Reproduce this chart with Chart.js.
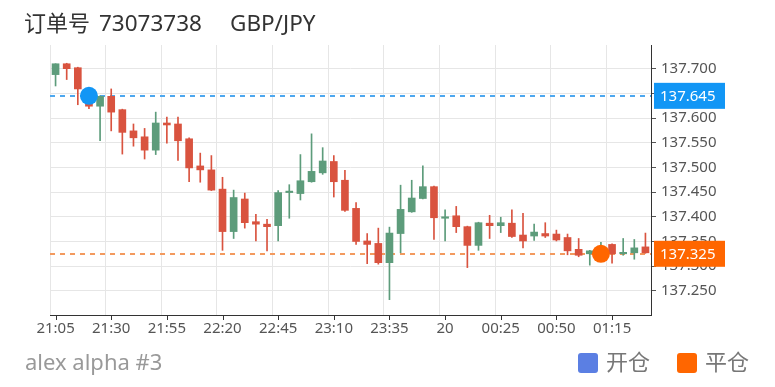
<!DOCTYPE html>
<html>
<head>
<meta charset="utf-8">
<script src="https://cdn.jsdelivr.net/npm/chart.js@4/dist/chart.umd.min.js"></script>
<style>
  html, body { margin: 0; padding: 0; background: #fff; }
  #wrap { width: 775px; height: 387px; }
</style>
</head>
<body>
<div id="wrap"><canvas id="kline" width="775" height="387"></canvas></div>
<script>
const FONT = "'Noto Sans', 'Noto Sans CJK SC', sans-serif";

const times = [
  '21:05', '21:10', '21:15', '21:20', '21:25', '21:30', '21:35', '21:40', '21:45', '21:50',
  '21:55', '22:00', '22:05', '22:10', '22:15', '22:20', '22:25', '22:30', '22:35', '22:40',
  '22:45', '22:50', '22:55', '23:00', '23:05', '23:10', '23:15', '23:20', '23:25', '23:30',
  '23:35', '23:40', '23:45', '23:50', '23:55', '20', '00:05', '00:10', '00:15', '00:20',
  '00:25', '00:30', '00:35', '00:40', '00:45', '00:50', '00:55', '01:00', '01:05', '01:10',
  '01:15', '01:20', '01:25', '01:30'
];

const opens = [
  137.688, 137.710, 137.702, 137.659, 137.624, 137.644, 137.617, 137.574, 137.562, 137.535,
  137.590, 137.588, 137.558, 137.503, 137.495, 137.456, 137.370, 137.436, 137.390, 137.385,
  137.382, 137.449, 137.447, 137.471, 137.489, 137.512, 137.474, 137.417, 137.351, 137.346,
  137.307, 137.366, 137.410, 137.437, 137.461, 137.397, 137.402, 137.380, 137.342, 137.387,
  137.382, 137.387, 137.363, 137.361, 137.366, 137.365, 137.358, 137.334, 137.325, 137.328,
  137.344, 137.325, 137.327, 137.339
];
const highs = [
  137.710, 137.711, 137.703, 137.662, 137.645, 137.659, 137.618, 137.588, 137.579, 137.612,
  137.602, 137.602, 137.560, 137.529, 137.524, 137.480, 137.454, 137.448, 137.405, 137.395,
  137.453, 137.465, 137.526, 137.568, 137.540, 137.524, 137.494, 137.429, 137.366, 137.377,
  137.379, 137.464, 137.474, 137.503, 137.462, 137.414, 137.421, 137.381, 137.389, 137.403,
  137.399, 137.414, 137.407, 137.385, 137.388, 137.373, 137.365, 137.356, 137.332, 137.348,
  137.345, 137.356, 137.354, 137.367
];
const lows = [
  137.665, 137.678, 137.627, 137.619, 137.554, 137.574, 137.527, 137.543, 137.517, 137.526,
  137.549, 137.514, 137.471, 137.470, 137.453, 137.332, 137.356, 137.377, 137.351, 137.331,
  137.351, 137.397, 137.434, 137.470, 137.486, 137.440, 137.411, 137.344, 137.305, 137.304,
  137.232, 137.327, 137.409, 137.436, 137.354, 137.351, 137.368, 137.297, 137.332, 137.356,
  137.368, 137.358, 137.337, 137.352, 137.358, 137.351, 137.323, 137.319, 137.302, 137.320,
  137.306, 137.322, 137.314, 137.326
];
const closes = [
  137.710, 137.700, 137.659, 137.624, 137.644, 137.612, 137.571, 137.560, 137.535, 137.590,
  137.586, 137.554, 137.499, 137.495, 137.454, 137.370, 137.439, 137.388, 137.385, 137.380,
  137.449, 137.452, 137.473, 137.492, 137.513, 137.471, 137.413, 137.350, 137.344, 137.307,
  137.367, 137.415, 137.438, 137.461, 137.398, 137.400, 137.380, 137.342, 137.388, 137.382,
  137.388, 137.360, 137.351, 137.369, 137.361, 137.353, 137.331, 137.322, 137.331, 137.334,
  137.325, 137.328, 137.337, 137.327
];

const OPEN_INDEX = 3;
const OPEN_PRICE = 137.645;
const CLOSE_INDEX = 49;
const CLOSE_PRICE = 137.325;

const UP = '#5d9c7b';
const DOWN = '#d9533f';
const OPEN_COLOR = '#1296f5';
const CLOSE_COLOR = '#ff6600';

const candleColors = opens.map((o, i) => closes[i] >= o ? UP : DOWN);
const bodies = opens.map((o, i) => [o, closes[i]]);
const wicks = lows.map((l, i) => [l, highs[i]]);
const openMarks = times.map((t, i) => i === OPEN_INDEX ? OPEN_PRICE : null);
const closeMarks = times.map((t, i) => i === CLOSE_INDEX ? CLOSE_PRICE : null);

/**
 * Price lines, price tags, title, footer, legend
 */
const decor = {
  id: 'decor',
  beforeDatasetsDraw(chart) {
    const { ctx, chartArea: a, scales } = chart;
    const lines = [[OPEN_PRICE, '#4ea8ef'], [CLOSE_PRICE, '#f39a5f']];
    ctx.save();
    ctx.lineWidth = 2;
    ctx.setLineDash([5, 5]);
    lines.forEach(([v, c]) => {
      const y = Math.round(scales.y.getPixelForValue(v));
      ctx.strokeStyle = c;
      ctx.beginPath();
      ctx.moveTo(a.left, y);
      ctx.lineTo(a.right, y);
      ctx.stroke();
    });
    ctx.restore();
  },
  afterDraw(chart) {
    const { ctx, chartArea: a, scales } = chart;
    ctx.save();

    // x tick marks sit on the candle centres
    ctx.strokeStyle = '#333';
    ctx.lineWidth = 1;
    times.forEach((t, i) => {
      if (i % 5 !== 0) return;
      const x = Math.round(scales.x.getPixelForTick(i)) + 0.5;
      ctx.beginPath();
      ctx.moveTo(x, a.bottom);
      ctx.lineTo(x, a.bottom + 5);
      ctx.stroke();
    });

    // price tags on the right axis
    ctx.font = '15px ' + FONT;
    ctx.textBaseline = 'middle';
    ctx.textAlign = 'left';
    [[OPEN_PRICE, OPEN_COLOR], [CLOSE_PRICE, CLOSE_COLOR]].forEach(([v, c]) => {
      const y = scales.y.getPixelForValue(v);
      ctx.fillStyle = c;
      ctx.fillRect(a.right + 3, y - 13, 71, 26);
      ctx.fillStyle = '#fff';
      ctx.fillText(v.toFixed(3), a.right + 9, y + 1);
    });

    // title
    ctx.fillStyle = '#333';
    ctx.font = '22px ' + FONT;
    ctx.fillText('订单号', 24, 25);
    ctx.font = '22.5px ' + FONT;
    ctx.fillText('73073738', 99, 25);
    ctx.fillText('GBP/JPY', 230, 25);

    // footer
    ctx.font = '22px ' + FONT;
    ctx.fillStyle = '#999';
    ctx.fillText('alex alpha #3', 25, 364);

    // legend
    const legend = [['开仓', '#5b7fe3', 578], ['平仓', CLOSE_COLOR, 677]];
    legend.forEach(([txt, c, x]) => {
      ctx.fillStyle = c;
      ctx.beginPath();
      ctx.roundRect(x, 353, 20, 20, 3);
      ctx.fill();
      ctx.fillStyle = '#777';
      ctx.fillText(txt, x + 28, 364);
    });

    ctx.restore();
  }
};

new Chart(document.getElementById('kline'), {
  type: 'bar',
  data: {
    labels: times,
    datasets: [
      {
        type: 'line',
        label: '开仓',
        data: openMarks,
        showLine: false,
        pointRadius: 9,
        pointHoverRadius: 9,
        pointBackgroundColor: OPEN_COLOR,
        pointBorderWidth: 0,
        order: 0
      },
      {
        type: 'line',
        label: '平仓',
        data: closeMarks,
        showLine: false,
        pointRadius: 9,
        pointHoverRadius: 9,
        pointBackgroundColor: CLOSE_COLOR,
        pointBorderWidth: 0,
        order: 0
      },
      {
        label: 'body',
        data: bodies,
        backgroundColor: candleColors,
        barThickness: 7,
        grouped: false,
        borderSkipped: false,
        borderWidth: 0,
        order: 1
      },
      {
        label: 'wick',
        data: wicks,
        backgroundColor: candleColors,
        barThickness: 1,
        grouped: false,
        borderSkipped: false,
        borderWidth: 0,
        order: 2
      }
    ]
  },
  options: {
    responsive: false,
    animation: false,
    layout: { padding: { left: 50, top: 45, right: 0, bottom: 0 } },
    plugins: {
      legend: { display: false },
      title: { display: false },
      tooltip: { enabled: false }
    },
    scales: {
      x: {
        type: 'category',
        offset: true,
        afterFit: (s) => { s.height = 72; },
        grid: {
          offset: true,
          drawTicks: false,
          color: (c) => c.index % 5 === 0 ? '#e6e6e6' : 'rgba(0,0,0,0)'
        },
        border: { display: true, color: '#333', width: 1 },
        ticks: {
          autoSkip: false,
          maxRotation: 0,
          padding: 5,
          color: '#555',
          font: { family: FONT, size: 15 },
          callback: (v, i) => i % 5 === 0 ? times[i] : ''
        }
      },
      y: {
        position: 'right',
        min: 137.201,
        max: 137.748,
        afterFit: (s) => { s.width = 124; },
        grid: { color: '#e6e6e6', tickColor: '#555', tickLength: 5 },
        border: { display: true, color: '#333', width: 1 },
        ticks: {
          stepSize: 0.05,
          includeBounds: false,
          padding: 5,
          color: '#555',
          font: { family: FONT, size: 15 },
          callback: (v) => Number(v).toFixed(3)
        }
      }
    }
  },
  plugins: [decor]
});
</script>
</body>
</html>
